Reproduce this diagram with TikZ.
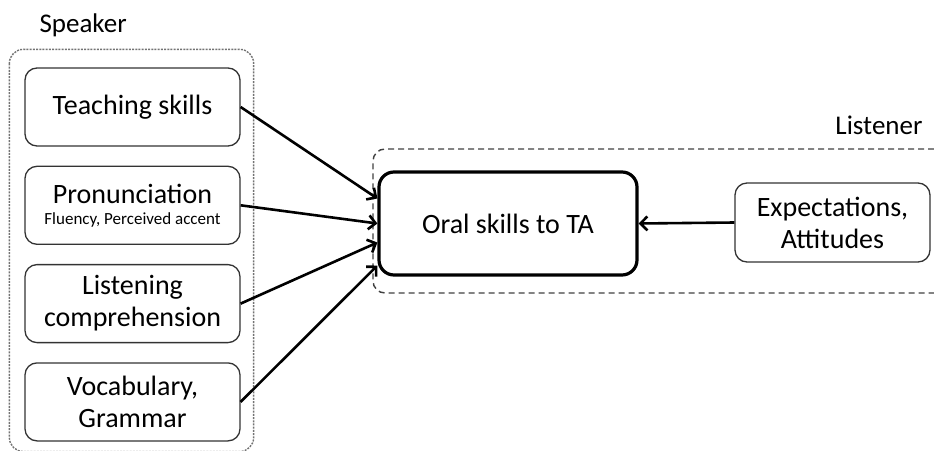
\documentclass[tikz,border=0pt]{standalone}
\usepackage{fontspec}
\setmainfont{Carlito}
\usepackage{tikz}
\usetikzlibrary{arrows.meta, positioning, calc}

\begin{document}
\begin{tikzpicture}[
    x=1pt, y=-1pt,
    node distance=19pt,
    block/.style={rectangle, draw=black!80, line width=1.3pt, rounded corners=12pt, minimum width=215pt, minimum height=78pt, align=center, font=\fontsize{28}{32}\selectfont},
    mainblock/.style={rectangle, draw, line width=3.2pt, rounded corners=15pt, minimum width=258pt, minimum height=103pt, align=center, font=\fontsize{28}{32}\selectfont},
    group/.style={draw=black!55, line width=1.4pt, dash pattern=on 2pt off 1.2pt, rounded corners=14pt},
    listengroup/.style={draw=black!75, line width=1.4pt, dash pattern=on 6pt off 4pt, rounded corners=12pt},
    label/.style={font=\fontsize{27}{32}\selectfont},
    arrow/.style={-{Straight Barb[length=7pt, width=14pt]}, line width=2.6pt}
]
    \useasboundingbox (0,0) rectangle (934,450);

    % speaker side
    \node[block] (teach) at (132.5,107) {Teaching skills};
    \node[block, below=of teach] (pron) {Pronunciation\\[-11pt]{\fontsize{17}{20}\selectfont Fluency, Perceived accent}};
    \node[block, below=of pron] (listen) {Listening\\comprehension};
    \node[block, below=of listen] (vocab) {Vocabulary,\\Grammar};
    \draw[group] ($(teach.north west)+(-15,-18)$) rectangle ($(vocab.south east)+(13,10)$);
    \node[label, anchor=west] (speaker) at (36,25) {Speaker};

    % listener side
    \node[mainblock] (oral) at (508,223.5) {Oral skills to TA};
    \node[block, minimum width=195pt, minimum height=79pt] (expect) at (832.5,222.5) {Expectations,\\Attitudes};
    \draw[listengroup] (934,149) -| (373,293) -- (934,293);
    \node[label, anchor=east] (listener) at (926,125) {Listener};

    \draw[arrow] (teach.east) -- ([yshift=25pt]oral.west);
    \draw[arrow] (pron.east) -- (oral.west);
    \draw[arrow] (listen.east) -- ([yshift=-19pt]oral.west);
    \draw[arrow] (vocab.east) -- ([yshift=-42pt]oral.west);
    \draw[arrow] (expect.west) -- (oral.east);
\end{tikzpicture}
\end{document}
